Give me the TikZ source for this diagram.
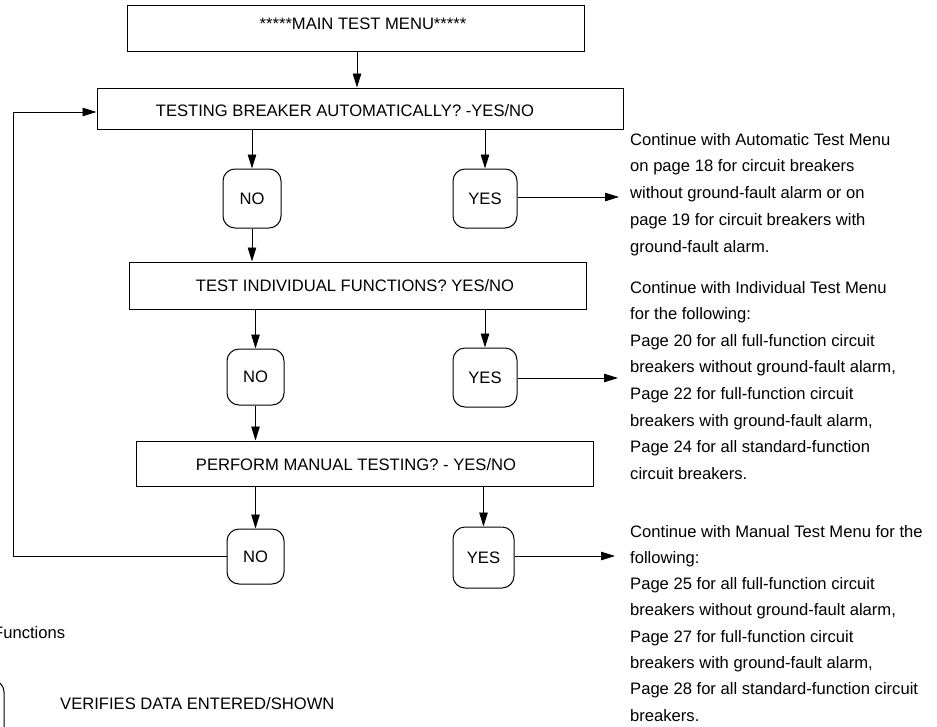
\documentclass[tikz,border=0pt]{standalone}
\usepackage{fontspec}
\setmainfont{Liberation Sans}
\usetikzlibrary{arrows.meta}
\begin{document}
\begin{tikzpicture}[x=1pt,y=-1pt,
  every node/.style={font=\fontsize{16.6}{20}\selectfont, inner sep=0pt},
  box/.style={draw, line width=1pt, rectangle},
  rbox/.style={draw, line width=1pt, rounded corners=12pt},
  arr/.style={line width=0.9pt, -{Triangle[length=14pt,width=8.5pt]}},
  plain/.style={line width=0.9pt},
  txt/.style={anchor=base},
  rtxt/.style={anchor=base west}]
\useasboundingbox (0,0) rectangle (937,726);
\clip (0,0) rectangle (937,726);

% rectangles
\node[box, minimum width=457, minimum height=46] (main) at (355.5,28) {};
\node[txt] (maint) at (363,29) {*****MAIN TEST MENU*****};
\node[box, minimum width=526, minimum height=41] (b2) at (360,108.5) {};
\node[txt] (b2t) at (345,116) {TESTING BREAKER AUTOMATICALLY? -YES/NO};
\node[box, minimum width=457, minimum height=47] (b3) at (357.5,285.5) {};
\node[txt] (b3t) at (355,291) {TEST INDIVIDUAL FUNCTIONS? YES/NO};
\node[box, minimum width=457, minimum height=45] (b4) at (364.5,463.5) {};
\node[txt] (b4t) at (356,470) {PERFORM MANUAL TESTING? - YES/NO};

% rounded boxes
\node[rbox, minimum width=58, minimum height=59] (no1) at (252,198.5) {NO};
\node[rbox, minimum width=64, minimum height=59] (yes1) at (485,198.5) {YES};
\node[rbox, minimum width=57, minimum height=56] (no2) at (255.5,377) {NO};
\node[rbox, minimum width=64, minimum height=59] (yes2) at (485,377.5) {YES};
\node[rbox, minimum width=57, minimum height=55] (no3) at (255.5,556.5) {NO};
\node[rbox, minimum width=61, minimum height=61] (yes3) at (483.5,557.5) {YES};

% connectors
\draw[arr] (main.south -| 357,0) -- (b2.north -| 357,0);
\draw[arr] (b2.south -| no1.north) -- (no1.north);
\draw[arr] (b2.south -| yes1.north) -- (yes1.north);
\draw[arr] (no1.south) -- (b3.north -| no1.south);
\draw[arr] (b3.south -| no2.north) -- (no2.north);
\draw[arr] (b3.south -| yes2.north) -- (yes2.north);
\draw[arr] (no2.south) -- (b4.north -| no2.south);
\draw[arr] (b4.south -| no3.north) -- (no3.north);
\draw[arr] (b4.south -| yes3.north) -- (yes3.north);

\coordinate (e1) at (619,197);
\coordinate (e2) at (618,378);
\coordinate (e3) at (615,556);
\draw[arr] (yes1.east |- e1) -- (e1);
\draw[arr] (yes2.east |- e2) -- (e2);
\draw[arr] (yes3.east |- e3) -- (e3);

\coordinate (fb) at (13,112);
\draw[arr] (no3.west) -| (fb) -- (b2.west |- fb);

% right-hand texts
\foreach \t [count=\i from 0] in {Continue with Automatic Test Menu,
  on page 18 for circuit breakers,
  without ground-fault alarm or on,
  page 19 for circuit breakers with,
  ground-fault alarm.}{
  \node[rtxt] (a\i) at (630,145+26.75*\i) {\t};
}
\foreach \t [count=\i from 0] in {Continue with Individual Test Menu,
  for the following:,
  Page 20 for all full-function circuit,
  {breakers without ground-fault alarm,},
  Page 22 for full-function circuit,
  {breakers with ground-fault alarm,},
  Page 24 for all standard-function,
  circuit breakers.}{
  \node[rtxt] (b\i) at (630,293+26.6*\i) {\t};
}
\foreach \t [count=\i from 0] in {Continue with Manual Test Menu for the,
  following:,
  Page 25 for all full-function circuit,
  {breakers without ground-fault alarm,},
  Page 27 for full-function circuit,
  {breakers with ground-fault alarm,},
  Page 28 for all standard-function circuit,
  breakers.}{
  \node[rtxt] (c\i) at (630,537+26.3*\i) {\t};
}

% legend fragment
\node[rtxt] (fn) at (-7,638) {Functions};
\node[rbox, minimum width=60, minimum height=60] (legbox) at (-26,710) {};
\node[rtxt] (ver) at (60,709) {VERIFIES DATA ENTERED/SHOWN};
\end{tikzpicture}
\end{document}
